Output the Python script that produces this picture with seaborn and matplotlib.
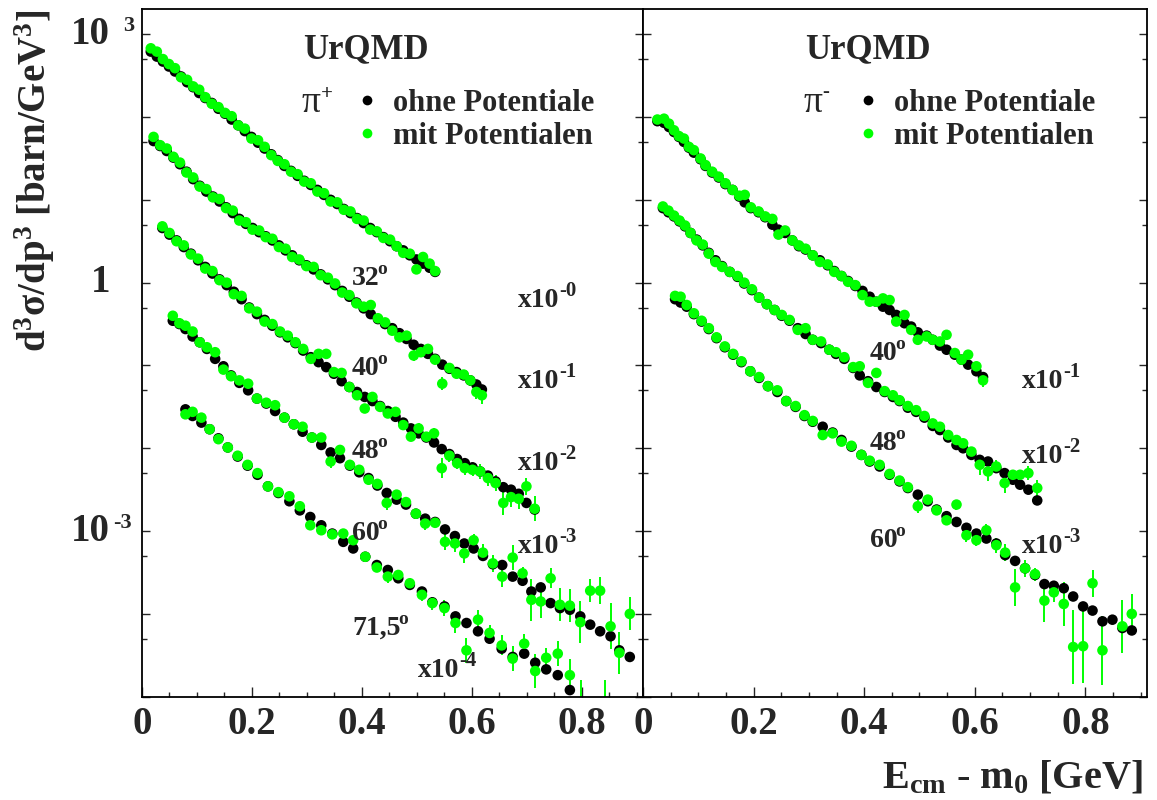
import numpy as np
import pandas as pd
import matplotlib
matplotlib.use("Agg")
import matplotlib.pyplot as plt
import seaborn as sns
from matplotlib.ticker import FixedLocator, NullFormatter, MultipleLocator, FixedFormatter
from matplotlib.lines import Line2D
import matplotlib.transforms as mtransforms

# ---------------- data (log10 of plotted d3sigma/dp3, scale factors applied) ----------------
# pi+ panel
E_PIP_32 = [0.016, 0.027, 0.038, 0.049, 0.060, 0.071, 0.082, 0.093, 0.104, 0.115, 0.127, 0.139, 0.151, 0.163, 0.175,
            0.187, 0.199, 0.211, 0.223, 0.235, 0.247, 0.259, 0.271, 0.283, 0.295, 0.307, 0.319, 0.331, 0.343, 0.355,
            0.367, 0.379, 0.391, 0.403, 0.415, 0.427, 0.439, 0.451, 0.463, 0.475, 0.487, 0.499, 0.511, 0.523, 0.533]
OHNE_PIP_32 = [2.79, 2.73, 2.67, 2.61, 2.55, 2.49, 2.42, 2.36, 2.29, 2.23, 2.17, 2.10, 2.04, 1.97, 1.90,
               1.83, 1.76, 1.69, 1.62, 1.55, 1.48, 1.41, 1.35, 1.29, 1.23, 1.18, 1.12, 1.06, 1.00, 0.95,
               0.89, 0.84, 0.78, 0.72, 0.66, 0.61, 0.55, 0.50, 0.44, 0.39, 0.33, 0.28, 0.23, 0.18, 0.13]
MIT_PIP_32 = [2.83, 2.79, 2.70, 2.64, 2.59, 2.48, 2.45, 2.37, 2.33, 2.24, 2.16, 2.12, 2.05, 2.01, 1.90,
              1.86, 1.74, 1.72, 1.64, 1.54, 1.47, 1.43, 1.34, 1.31, 1.22, 1.20, 1.10, 1.08, 0.98, 0.97,
              0.88, 0.86, 0.77, 0.75, 0.64, 0.62, 0.54, 0.52, 0.44, 0.36, 0.35, 0.16, 0.31, 0.23, 0.14]
ERR_PIP_32 = [0] * 41 + [0.05, 0.03, 0.03, 0.04]

E_PIP_40 = [0.021, 0.033, 0.045, 0.057, 0.069, 0.081, 0.093, 0.105, 0.117, 0.129, 0.141, 0.153, 0.165, 0.177, 0.189,
            0.201, 0.213, 0.225, 0.237, 0.249, 0.261, 0.273, 0.286, 0.299, 0.312, 0.325, 0.338, 0.351, 0.364, 0.377,
            0.390, 0.403, 0.416, 0.429, 0.442, 0.455, 0.468, 0.481, 0.494, 0.507, 0.520, 0.533, 0.546, 0.559, 0.572,
            0.585, 0.597, 0.608, 0.618]
OHNE_PIP_40 = [1.71, 1.65, 1.59, 1.51, 1.43, 1.34, 1.25, 1.17, 1.10, 1.04, 0.98, 0.91, 0.84, 0.77, 0.71,
               0.66, 0.61, 0.56, 0.51, 0.45, 0.39, 0.33, 0.27, 0.21, 0.16, 0.10, 0.04, -0.03, -0.10, -0.17,
               -0.24, -0.31, -0.38, -0.44, -0.50, -0.55, -0.61, -0.68, -0.75, -0.80, -0.86, -0.92, -0.99, -1.04, -1.08,
               -1.12, -1.18, -1.23, -1.29]
MIT_PIP_40 = [1.76, 1.66, 1.62, 1.52, 1.45, 1.33, 1.27, 1.16, 1.13, 1.03, 1.01, 0.90, 0.87, 0.75, 0.73,
              0.64, 0.63, 0.55, 0.53, 0.43, 0.41, 0.31, 0.28, 0.20, 0.19, 0.09, 0.06, -0.01, -0.12, -0.15,
              -0.25, -0.29, -0.27, -0.43, -0.48, -0.58, -0.66, -0.64, -0.88, -0.84, -0.80, -0.93, -1.22, -1.03, -1.10,
              -1.11, -1.18, -1.32, -1.36]
ERR_PIP_40 = [0] * 36 + [0.03, 0.03, 0.07, 0.04, 0.04, 0.05, 0.08, 0.05, 0.05, 0.06, 0.07, 0.08, 0.10]

E_PIP_48 = [0.037, 0.050, 0.063, 0.076, 0.089, 0.102, 0.115, 0.128, 0.141, 0.154, 0.167, 0.181, 0.195, 0.209, 0.223,
            0.237, 0.251, 0.265, 0.279, 0.293, 0.307, 0.321, 0.335, 0.349, 0.363, 0.377, 0.391, 0.405, 0.419, 0.433,
            0.447, 0.461, 0.475, 0.489, 0.503, 0.517, 0.531, 0.545, 0.559, 0.573, 0.587, 0.601, 0.615, 0.629, 0.643,
            0.657, 0.671, 0.685, 0.699, 0.714]
OHNE_PIP_48 = [0.66, 0.58, 0.51, 0.43, 0.35, 0.27, 0.19, 0.11, 0.04, -0.03, -0.11, -0.20, -0.30, -0.38, -0.45,
               -0.52, -0.60, -0.66, -0.73, -0.82, -0.90, -0.96, -1.02, -1.10, -1.19, -1.26, -1.32, -1.38, -1.43, -1.49,
               -1.55, -1.62, -1.69, -1.76, -1.82, -1.87, -1.93, -2.01, -2.07, -2.13, -2.18, -2.23, -2.28, -2.33, -2.40,
               -2.47, -2.50, -2.55, -2.66, -2.74]
MIT_PIP_48 = [0.68, 0.60, 0.50, 0.45, 0.34, 0.29, 0.17, 0.14, 0.03, 0.00, -0.14, -0.16, -0.31, -0.35, -0.47,
              -0.50, -0.59, -0.64, -0.72, -0.80, -0.92, -0.86, -0.86, -1.08, -1.09, -1.26, -1.36, -1.52, -1.38, -1.50,
              -1.58, -1.56, -1.72, -1.86, -1.76, -1.86, -1.82, -2.24, -2.09, -2.18, -2.24, -2.26, -2.28, -2.36, -2.42,
              -2.66, -2.59, -2.61, -2.46, -2.73]
ERR_PIP_48 = [0] * 26 + [0.04, 0.05, 0.04, 0.05, 0.05, 0.04, 0.06, 0.05, 0.06, 0.06, 0.06, 0.12, 0.07, 0.07, 0.08,
                         0.08, 0.09, 0.09, 0.10, 0.15, 0.12, 0.12, 0.10, 0.15]

E_PIP_60 = [0.056, 0.068, 0.079, 0.092, 0.105, 0.118, 0.133, 0.148, 0.162, 0.177, 0.193, 0.209, 0.226, 0.242, 0.259,
            0.276, 0.292, 0.309, 0.326, 0.343, 0.360, 0.378, 0.395, 0.412, 0.428, 0.445, 0.463, 0.480, 0.498, 0.515,
            0.533, 0.551, 0.569, 0.586, 0.603, 0.620, 0.638, 0.655, 0.674, 0.692, 0.708, 0.725, 0.743, 0.760, 0.778,
            0.797, 0.815, 0.833, 0.852, 0.868, 0.887]
OHNE_PIP_60 = [-0.46, -0.50, -0.56, -0.65, -0.72, -0.80, -0.92, -1.01, -1.12, -1.21, -1.30, -1.40, -1.46, -1.55, -1.63,
               -1.71, -1.80, -1.87, -1.96, -2.05, -2.12, -2.21, -2.29, -2.36, -2.45, -2.54, -2.62, -2.68, -2.79, -2.85,
               -2.89, -2.98, -3.06, -3.15, -3.21, -3.30, -3.40, -3.41, -3.55, -3.60, -3.73, -3.68, -3.87, -3.93, -3.95,
               -4.03, -4.13, -4.21, -4.27, -4.44, -4.52]
MIT_PIP_60 = [-0.40, -0.49, -0.52, -0.59, -0.72, -0.78, -0.84, -1.05, -1.13, -1.18, -1.22, -1.40, -1.45, -1.48, -1.63,
              -1.71, -1.74, -1.87, -1.87, -2.16, -2.02, -2.20, -2.26, -2.38, -2.43, -2.66, -2.56, -2.65, -2.79, -2.91,
              -2.90, -3.13, -3.15, -3.27, -3.11, -3.26, -3.39, -3.55, -3.32, -3.51, -3.83, -3.85, -3.57, -3.89, -3.90,
              -4.10, -3.72, -3.72, -4.15, -4.47, -4.00]
ERR_PIP_60 = [0] * 19 + [0.08, 0.04, 0.04, 0.04, 0.04, 0.04, 0.08, 0.06, 0.05, 0.06, 0.08, 0.06, 0.10, 0.10, 0.12,
                         0.08, 0.10, 0.10, 0.12, 0.15, 0.08, 0.25, 0.20, 0.12, 0.20, 0.20, 0.25, 0.14, 0.16, 0.28,
                         0.25, 0.20]

E_PIP_71 = [0.079, 0.092, 0.108, 0.123, 0.139, 0.156, 0.174, 0.192, 0.210, 0.229, 0.248, 0.268, 0.287, 0.306, 0.326,
            0.346, 0.366, 0.384, 0.406, 0.427, 0.447, 0.466, 0.487, 0.509, 0.528, 0.550, 0.570, 0.590, 0.611, 0.632,
            0.654, 0.674, 0.695, 0.715, 0.735, 0.756, 0.778, 0.799, 0.820, 0.841]
OHNE_PIP_71 = [-1.53, -1.61, -1.69, -1.77, -1.88, -1.99, -2.10, -2.21, -2.32, -2.46, -2.54, -2.64, -2.75, -2.83, -2.93,
               -3.03, -3.13, -3.21, -3.31, -3.41, -3.47, -3.57, -3.65, -3.73, -3.86, -3.91, -4.03, -4.11, -4.21, -4.30,
               -4.42, -4.52, -4.48, -4.59, -4.67, -4.74, -4.92, np.nan, np.nan, np.nan]
MIT_PIP_71 = [-1.59, -1.56, -1.63, -1.77, -1.89, -1.99, -2.09, -2.20, -2.30, -2.46, -2.53, -2.58, -2.70, -2.93, -2.99,
              -3.04, -3.03, -3.11, -3.31, -3.44, -3.55, -3.53, -3.63, -3.77, -3.87, -3.93, -4.11, -4.44, -4.07, -4.23,
              -4.38, -4.54, -4.36, -4.69, -4.53, -4.48, -4.74, -5.30, np.nan, -5.40]
ERR_PIP_71 = [0] * 15 + [0.04, 0.04, 0.04, 0.04, 0.04, 0.08, 0.05, 0.06, 0.07, 0.08, 0.10, 0.12, 0.15, 0.12, 0.10,
                         0.12, 0.15, 0.12, 0.20, 0.12, 0.15, 0.20, 0.50, 0.0, 0.60]

# pi- panel
E_PIM_40 = [0.026, 0.038, 0.047, 0.056, 0.065, 0.074, 0.083, 0.092, 0.104, 0.113, 0.125, 0.137, 0.149, 0.162, 0.174,
            0.184, 0.195, 0.209, 0.221, 0.234, 0.245, 0.257, 0.270, 0.282, 0.294, 0.307, 0.320, 0.334, 0.346, 0.359,
            0.371, 0.384, 0.397, 0.410, 0.422, 0.434, 0.446, 0.458, 0.473, 0.485, 0.497, 0.513, 0.524, 0.537, 0.549,
            0.564, 0.576, 0.588, 0.603, 0.615]
OHNE_PIM_40 = [1.95, 1.93, 1.88, 1.82, 1.76, 1.70, 1.63, 1.57, 1.49, 1.41, 1.33, 1.27, 1.19, 1.12, 1.04,
               0.97, 0.90, 0.85, 0.79, 0.70, 0.64, 0.60, 0.51, 0.44, 0.40, 0.33, 0.27, 0.21, 0.14, 0.08,
               0.02, -0.04, -0.10, -0.17, -0.23, -0.29, -0.33, -0.39, -0.49, -0.53, -0.60, -0.64, -0.69, -0.76, -0.81,
               -0.87, -0.93, -0.99, -1.07, -1.14]
MIT_PIM_40 = [1.97, 1.98, 1.92, 1.84, 1.77, 1.74, 1.64, 1.60, 1.50, 1.42, 1.34, 1.28, 1.20, 1.12, 1.05,
              1.06, 0.91, 0.86, 0.80, 0.77, 0.58, 0.63, 0.51, 0.45, 0.41, 0.33, 0.25, 0.22, 0.13, 0.08,
              0.01, -0.03, -0.15, -0.23, -0.23, -0.19, -0.21, -0.47, -0.39, -0.57, -0.69, -0.65, -0.69, -0.71, -0.63,
              -0.85, -0.93, -0.87, -1.01, -1.18]
ERR_PIM_40 = [0] * 38 + [0.05, 0.04, 0.04, 0.04, 0.04, 0.04, 0.04, 0.04, 0.04, 0.04, 0.04, 0.08]

E_PIM_48 = [0.036, 0.046, 0.056, 0.066, 0.076, 0.086, 0.097, 0.108, 0.119, 0.131, 0.143, 0.157, 0.171, 0.183, 0.197,
            0.210, 0.224, 0.238, 0.251, 0.265, 0.280, 0.294, 0.307, 0.322, 0.337, 0.349, 0.364, 0.380, 0.392, 0.407,
            0.422, 0.437, 0.452, 0.464, 0.479, 0.494, 0.509, 0.524, 0.537, 0.552, 0.567, 0.579, 0.594, 0.609, 0.624,
            0.639, 0.654, 0.669, 0.682, 0.697, 0.713]
OHNE_PIM_48 = [0.90, 0.85, 0.80, 0.74, 0.68, 0.60, 0.52, 0.45, 0.36, 0.27, 0.20, 0.13, 0.07, -0.01, -0.09,
               -0.18, -0.26, -0.33, -0.40, -0.46, -0.55, -0.62, -0.69, -0.73, -0.81, -0.86, -0.92, -1.03, -1.12, -1.19,
               -1.26, -1.32, -1.38, -1.43, -1.51, -1.56, -1.63, -1.73, -1.78, -1.87, -1.96, -2.00, -2.08, -2.14, -2.16,
               -2.24, -2.30, -2.38, -2.44, -2.50, -2.63]
MIT_PIM_48 = [0.92, 0.87, 0.81, 0.75, 0.69, 0.60, 0.51, 0.46, 0.35, 0.25, 0.19, 0.13, 0.08, 0.00, -0.08,
              -0.18, -0.26, -0.33, -0.39, -0.45, -0.57, -0.55, -0.69, -0.71, -0.81, -0.84, -0.90, -1.02, -1.01, -1.21,
              -1.09, -1.31, -1.36, -1.42, -1.49, -1.54, -1.61, -1.70, -1.74, -1.84, -1.90, -1.94, -2.04, -2.20, -2.28,
              -2.22, -2.42, -2.32, -2.32, -2.30, -2.48]
ERR_PIM_48 = [0] * 39 + [0.04, 0.05, 0.05, 0.06, 0.12, 0.12, 0.08, 0.12, 0.06, 0.06, 0.08, 0.10]

E_PIM_60 = [0.058, 0.068, 0.079, 0.092, 0.106, 0.119, 0.133, 0.148, 0.163, 0.178, 0.194, 0.210, 0.226, 0.243, 0.259,
            0.276, 0.292, 0.307, 0.325, 0.343, 0.359, 0.377, 0.395, 0.410, 0.428, 0.446, 0.464, 0.479, 0.497, 0.515,
            0.531, 0.549, 0.567, 0.585, 0.603, 0.621, 0.639, 0.655, 0.673, 0.691, 0.709, 0.726, 0.743, 0.761, 0.778,
            0.796, 0.813, 0.831, 0.849, 0.867, 0.884]
OHNE_PIM_60 = [-0.20, -0.24, -0.29, -0.38, -0.47, -0.56, -0.67, -0.78, -0.87, -0.96, -1.07, -1.15, -1.25, -1.32, -1.43,
               -1.50, -1.61, -1.68, -1.74, -1.81, -1.90, -1.98, -2.08, -2.16, -2.22, -2.32, -2.40, -2.48, -2.56, -2.64,
               -2.74, -2.82, -2.89, -2.96, -3.03, -3.09, -3.15, -3.29, -3.36, -3.45, -3.53, -3.64, -3.66, -3.69, -3.79,
               -3.91, -3.96, -4.09, -4.07, -4.17, -4.20]
MIT_PIM_60 = [-0.16, -0.17, -0.27, -0.37, -0.46, -0.55, -0.66, -0.77, -0.86, -0.95, -1.07, -1.14, -1.25, -1.30, -1.43,
              -1.49, -1.60, -1.67, -1.84, -1.82, -1.92, -1.97, -2.08, -2.15, -2.20, -2.31, -2.39, -2.47, -2.70, -2.62,
              -2.75, -2.87, -2.68, -3.05, -3.11, -2.99, -3.17, -3.26, -3.68, -3.45, -3.52, -3.84, -3.74, -3.88, -4.40,
              -4.39, -3.63, -4.44, np.nan, -4.15, -4.00]
ERR_PIM_60 = [0] * 28 + [0.08, 0.05, 0.05, 0.06, 0.06, 0.08, 0.07, 0.08, 0.09, 0.10, 0.22, 0.10, 0.08, 0.26, 0.12,
                         0.27, 0.45, 0.45, 0.16, 0.42, 0.0, 0.32, 0.24]

ANGLES_PIP = ["32", "40", "48", "60", "71,5"]
SCALES_PIP = ["-0", "-1", "-2", "-3", "-4"]
ANGLES_PIM = ["40", "48", "60"]
SCALES_PIM = ["-1", "-2", "-3"]
LEGEND_LABELS = ["ohne Potentiale", "mit Potentialen"]
X_TICKS = [0.0, 0.2, 0.4, 0.6, 0.8]
X_TICK_LABELS = ["0", "0.2", "0.4", "0.6", "0.8"]

SERIES = [
    ("pip", E_PIP_32, OHNE_PIP_32, MIT_PIP_32, ERR_PIP_32),
    ("pip", E_PIP_40, OHNE_PIP_40, MIT_PIP_40, ERR_PIP_40),
    ("pip", E_PIP_48, OHNE_PIP_48, MIT_PIP_48, ERR_PIP_48),
    ("pip", E_PIP_60, OHNE_PIP_60, MIT_PIP_60, ERR_PIP_60),
    ("pip", E_PIP_71, OHNE_PIP_71, MIT_PIP_71, ERR_PIP_71),
    ("pim", E_PIM_40, OHNE_PIM_40, MIT_PIM_40, ERR_PIM_40),
    ("pim", E_PIM_48, OHNE_PIM_48, MIT_PIM_48, ERR_PIM_48),
    ("pim", E_PIM_60, OHNE_PIM_60, MIT_PIM_60, ERR_PIM_60),
]

frames = []
for k, (panel, e, ohne, mit, err) in enumerate(SERIES):
    frames.append(pd.DataFrame({"panel": panel, "series": k, "E": e, "logy": ohne, "err": 0.0, "variant": "ohne"}))
    frames.append(pd.DataFrame({"panel": panel, "series": k, "E": e, "logy": mit, "err": err, "variant": "mit"}))
df = pd.concat(frames, ignore_index=True).dropna(subset=["logy"])
df["y"] = 10.0 ** df["logy"]
df["order"] = (df["variant"] == "mit").astype(int)
df = df.sort_values(["order"], kind="stable")

# ---------------- style ----------------
sns.set_style("white")
plt.rcParams["font.family"] = ["Liberation Serif", "DejaVu Serif"]
plt.rcParams["font.weight"] = "bold"
plt.rcParams["mathtext.fontset"] = "custom"
plt.rcParams["mathtext.rm"] = "Liberation Serif:bold"
plt.rcParams["mathtext.bf"] = "Liberation Serif:bold"
plt.rcParams["mathtext.it"] = "Liberation Serif:bold"

BLACK = "#000000"
GREEN = "#00ff00"
PAL = {"ohne": BLACK, "mit": GREEN}

fig = plt.figure(figsize=(11.57, 8.0), dpi=100, facecolor="white")
ax_l = fig.add_axes([142 / 1157, 1 - 696.7 / 800, (643 - 142) / 1157, (696.7 - 9.3) / 800])
ax_r = fig.add_axes([643 / 1157, 1 - 696.7 / 800, (1146.7 - 643) / 1157, (696.7 - 9.3) / 800])

for ax, panel in [(ax_l, "pip"), (ax_r, "pim")]:
    ax.set_yscale("log")
    sub = df[df["panel"] == panel]
    eb = sub[(sub["variant"] == "mit") & (sub["err"] > 0)]
    ax.vlines(eb["E"], 10.0 ** (eb["logy"] - eb["err"]), 10.0 ** (eb["logy"] + eb["err"]),
              color=GREEN, lw=1.4, zorder=2)
    sns.scatterplot(data=sub, x="E", y="y", hue="variant", palette=PAL, s=58, linewidth=0,
                    legend=False, ax=ax, zorder=3)
    ax.set_xlim(0, 0.911)
    ax.set_ylim(1e-5, 2e3)
    ax.set_xlabel("")
    ax.set_ylabel("")
    for sp in ax.spines.values():
        sp.set_color("black")
        sp.set_linewidth(1.3)
    ax.yaxis.set_major_locator(FixedLocator([10.0 ** k for k in range(-5, 4)]))
    ax.yaxis.set_minor_locator(FixedLocator([5 * 10.0 ** k for k in range(-5, 3)]))
    ax.yaxis.set_major_formatter(NullFormatter())
    ax.yaxis.set_minor_formatter(NullFormatter())
    ax.tick_params(axis="y", which="major", direction="in", left=True, right=True, length=5.5, width=1.0)
    ax.tick_params(axis="y", which="minor", direction="in", left=True, right=True, length=3.5, width=1.0)
    ax.xaxis.set_major_locator(FixedLocator(X_TICKS))
    ax.xaxis.set_major_formatter(FixedFormatter(X_TICK_LABELS))
    ax.xaxis.set_minor_locator(MultipleLocator(0.05))
    ax.tick_params(axis="x", which="major", direction="in", bottom=True, top=False, length=7, width=1.0,
                   labelsize=28, pad=7)
    ax.tick_params(axis="x", which="minor", direction="in", bottom=True, top=False, length=3.6, width=1.0)
    for lab in ax.get_xticklabels():
        lab.set_fontweight("bold")


def sup_label(ax, x, y, base, sup, size, supsize, frac, dx=1.0, weight="bold"):
    t = ax.text(x, y, base, transform=ax.transAxes, fontsize=size, ha="left", va="baseline",
                fontweight=weight)
    ax.annotate(sup, xy=(1, frac), xycoords=t, xytext=(dx, 0), textcoords="offset points",
                ha="left", va="bottom", fontsize=supsize, fontweight="bold")
    return t


# header texts
for ax in (ax_l, ax_r):
    ax.text(0.3215, 0.9287, "UrQMD", transform=ax.transAxes, fontsize=25, fontweight="bold",
            ha="left", va="baseline")
sup_label(ax_l, 0.3188, 0.851, "\u03c0", "+", 27, 15, 0.45, dx=0.0, weight="normal")
sup_label(ax_r, 0.3183, 0.851, "\u03c0", "-", 27, 15, 0.50, dx=0.0, weight="normal")

# legends
for ax, x0 in [(ax_l, 0.4345), (ax_r, 0.4323)]:
    handles = [Line2D([], [], marker="o", ls="", color=BLACK, markersize=7, markeredgewidth=0),
               Line2D([], [], marker="o", ls="", color=GREEN, markersize=7, markeredgewidth=0)]
    leg = ax.legend(handles, LEGEND_LABELS, loc="upper left", bbox_to_anchor=(x0, 0.884), frameon=False,
                    fontsize=22, handlelength=0.5, handletextpad=0.6, labelspacing=0.13, borderpad=0,
                    borderaxespad=0)
    for t in leg.get_texts():
        t.set_fontweight("bold")

# angle and scale labels (pi+)
ang_y_l = [0.599, 0.468, 0.347, 0.228, 0.0898]
sc_y_l = [0.567, 0.449, 0.330, 0.209, 0.0287]
for i, (a, s) in enumerate(zip(ANGLES_PIP, SCALES_PIP)):
    sup_label(ax_l, 0.419, ang_y_l[i], a, "o", 20, 14, 0.52, dx=-1.5)
    sx = 0.7505 if i < 4 else 0.551
    sup_label(ax_l, sx, sc_y_l[i], "x10", s, 20, 15, 0.48, dx=0.0)

ang_y_r = [0.490, 0.359, 0.218]
sc_y_r = [0.449, 0.340, 0.209]
for i, (a, s) in enumerate(zip(ANGLES_PIM, SCALES_PIM)):
    sup_label(ax_r, 0.4507, ang_y_r[i], a, "o", 20, 14, 0.52, dx=-1.5)
    sup_label(ax_r, 0.7518, sc_y_r[i], "x10", s, 20, 15, 0.48, dx=0.0)

# y tick labels (ROOT style)
blend = mtransforms.blended_transform_factory(ax_l.transAxes, ax_l.transData)
for val, base, exp, ex in [(1e3, "10", "3", -0.0379), (1.0, "1", None, None), (1e-3, "10", "-3", -0.0579)]:
    ax_l.text(-0.0639, val, base, transform=blend, ha="right", va="center", fontsize=28, fontweight="bold")
    if exp is not None:
        ax_l.annotate(exp, xy=(ex, val), xycoords=blend, xytext=(0, 6), textcoords="offset points",
                      ha="left", va="center", fontsize=16, fontweight="bold")

# axis titles
ax_l.text(-0.2136, 1.0, "d$^{\\mathbf{3}}$\u03c3/dp$^{\\mathbf{3}}$ [barn/GeV$^{\\mathbf{3}}$]",
          transform=ax_l.transAxes, rotation=90, ha="center", va="top", fontsize=28, fontweight="bold")
fig.text(1143 / 1157, 1 - 788 / 800, "E$_{\\mathbf{cm}}$ - m$_{\\mathbf{0}}$ [GeV]",
         ha="right", va="baseline", fontsize=29, fontweight="bold")

fig.savefig("out.png", dpi=100, facecolor="white")
